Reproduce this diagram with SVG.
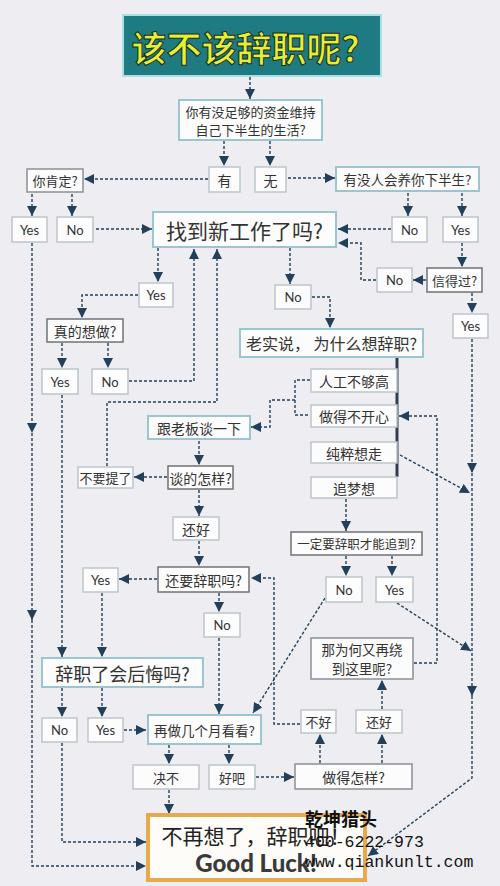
<svg xmlns="http://www.w3.org/2000/svg" width="500" height="886" viewBox="0 0 500 886">
<defs>
<marker id="ah" markerUnits="userSpaceOnUse" markerWidth="10" markerHeight="10" refX="10" refY="5" orient="auto">
<path d="M0,0 L10,5 L0,10 z" fill="#22405a"/>
</marker>
<style>
.b{fill:#fcfcfc;stroke:#bcc6ca;stroke-width:1.5}
.bt{fill:#fcfcfc;stroke:#9cc6cf;stroke-width:2}
.bd{fill:#fcfcfc;stroke:#6f7275;stroke-width:1.5}
.t{font-family:"Noto Sans CJK SC","Noto Sans",sans-serif;fill:#333;text-anchor:middle;dominant-baseline:central}
.l{font-family:Lato,"Noto Sans",sans-serif;fill:#333;text-anchor:middle;dominant-baseline:central;font-size:13px}
.c path{fill:none;stroke:#22405a;stroke-width:1.4;stroke-dasharray:3 2}
.c .a{marker-end:url(#ah)}
.wm{font-family:"Liberation Mono",monospace;fill:#111;font-size:16.5px}
</style>
</defs>
<rect width="500" height="886" fill="#eeeef2"/>

<g id="title">
<rect x="123" y="15" width="258" height="61" fill="#1f7b82" stroke="#a8e0e3" stroke-width="2"/>
<text x="254" y="46" class="t" style="font-size:35px;font-weight:bold;fill:#e4ef3a;stroke:#1d2b15;stroke-width:1">该不该辞职呢？</text>
</g>

<g class="c" id="connectors">
<path class="a" d="M250,77 V99"/>
<path class="a" d="M224,141 V166"/>
<path class="a" d="M270,141 V166"/>
<path class="a" d="M208,179 H84"/>
<path class="a" d="M288,178 H335"/>
<path class="a" d="M32,194 V216"/>
<path class="a" d="M72,194 V216"/>
<path class="a" d="M96,229 H152"/>
<path class="a" d="M408,193 V216"/>
<path class="a" d="M462,193 V216"/>
<path class="a" d="M391,229 H338"/>
<path class="a" d="M462,243 V267"/>
<path class="a" d="M426,280 H413"/>
<path class="a" d="M376,280 H361 V243 H338"/>
<path class="a" d="M472,293 V313"/>
<path class="a" d="M472,339 V473"/>
<path class="a" d="M472,473 V696"/>
<path class="a" d="M472,696 V778 L368,856"/>
<path class="a" d="M400,455 L470,493"/>
<path class="a" d="M397,603 L471,651"/>
<path class="a" d="M158,248 V282"/>
<path class="a" d="M290,248 V284"/>
<path class="a" d="M138,295 H82 V318"/>
<path class="a" d="M62,343 V368"/>
<path class="a" d="M108,343 V368"/>
<path class="a" d="M129,381 H194 V249"/>
<path class="a" d="M107,466 V402 H217 V249"/>
<path class="a" d="M312,297 H330 V328"/>
<path d="M310,380 H295 V415 H310"/>
<path class="a" d="M295,400 H270 V427 H251"/>
<path class="a" d="M199,441 V465"/>
<path class="a" d="M167,477 H134"/>
<path class="a" d="M199,490 V516"/>
<path class="a" d="M199,541 V566"/>
<path class="a" d="M157,579 H119"/>
<path class="a" d="M219,593 V612"/>
<path class="a" d="M102,593 V657"/>
<path class="a" d="M62,395 V657"/>
<path class="a" d="M32,243 V433"/>
<path class="a" d="M32,433 V620"/>
<path class="a" d="M32,620 V866 H146"/>
<path class="a" d="M62,688 V717"/>
<path class="a" d="M102,688 V717"/>
<path class="a" d="M62,743 V842 H146"/>
<path class="a" d="M124,730 H146"/>
<path class="a" d="M219,638 V714"/>
<path class="a" d="M325,598 L253,713"/>
<path class="a" d="M169,745 V764"/>
<path class="a" d="M229,745 V764"/>
<path class="a" d="M169,790 V814"/>
<path class="a" d="M256,777 H294"/>
<path class="a" d="M320,763 V734"/>
<path class="a" d="M382,763 V734"/>
<path class="a" d="M382,709 V680"/>
<path class="a" d="M300,724 H274 V578 H251"/>
<path class="a" d="M414,663 H437 V416 H399"/>
<path class="a" d="M346,499 V531"/>
<path class="a" d="M346,556 V576"/>
<path class="a" d="M392,556 V576"/>
</g>
<path d="M397,358 V477" stroke="#2d3e50" stroke-width="3" fill="none"/>

<g id="q1"><rect class="bt" x="179" y="100" width="143" height="40"/>
<text class="t" x="250.5" y="111" style="font-size:13px">你有没足够的资金维持</text>
<text class="t" x="250.5" y="129" style="font-size:13px">自己下半生的生活?</text></g>
<g id="you"><rect class="b" x="209" y="167" width="31" height="25"/><text class="t" x="224.5" y="179.5" style="font-size:14px">有</text></g>
<g id="wu"><rect class="b" x="255" y="167" width="31" height="25"/><text class="t" x="270.5" y="179.5" style="font-size:14px">无</text></g>
<g id="sure"><rect class="bd" x="27" y="169" width="56" height="23" style="stroke:#8a8f92"/><text class="t" x="55" y="180.5" style="font-size:13px">你肯定?</text></g>
<g id="raise"><rect class="bt" x="336" y="167" width="143" height="24"/><text class="t" x="407.5" y="179" style="font-size:13.5px">有没人会养你下半生?</text></g>
<g id="sureYes"><rect class="b" x="12" y="217" width="35" height="25"/><text class="l" x="29.5" y="229.5">Yes</text></g>
<g id="sureNo"><rect class="b" x="57" y="217" width="36" height="25"/><text class="l" x="75" y="229.5">No</text></g>
<g id="newjob"><rect class="bt" x="153" y="212" width="183" height="35"/><text class="t" x="244.5" y="229.5" style="font-size:21px">找到新工作了吗?</text></g>
<g id="raiseNo"><rect class="b" x="392" y="217" width="35" height="25"/><text class="l" x="409.5" y="229.5">No</text></g>
<g id="raiseYes"><rect class="b" x="443" y="217" width="35" height="25"/><text class="l" x="460.5" y="229.5">Yes</text></g>
<g id="trustNo"><rect class="b" x="377" y="268" width="35" height="24"/><text class="l" x="394.5" y="280">No</text></g>
<g id="trust"><rect class="bd" x="427" y="268" width="55" height="24"/><text class="t" x="454.5" y="280" style="font-size:13px">信得过?</text></g>
<g id="trustYes"><rect class="b" x="453" y="314" width="35" height="24"/><text class="l" x="470.5" y="326">Yes</text></g>
<g id="jobYes"><rect class="b" x="139" y="283" width="34" height="24"/><text class="l" x="156" y="295">Yes</text></g>
<g id="jobNo"><rect class="b" x="275" y="285" width="36" height="24"/><text class="l" x="293" y="297">No</text></g>
<g id="really"><rect class="bd" x="47" y="319" width="76" height="23"/><text class="t" x="85" y="330.5" style="font-size:14px">真的想做?</text></g>
<g id="reallyYes"><rect class="b" x="42" y="369" width="36" height="25"/><text class="l" x="60" y="381.5">Yes</text></g>
<g id="reallyNo"><rect class="b" x="92" y="369" width="36" height="25"/><text class="l" x="110" y="381.5">No</text></g>
<g id="why"><rect class="bt" x="240" y="329" width="183" height="28"/><text class="t" x="331.5" y="343" style="font-size:16px">老实说，  为什么想辞职?</text></g>
<g id="pay"><rect class="b" x="311" y="369" width="86" height="23"/><text class="t" x="354" y="380.5" style="font-size:14px">人工不够高</text></g>
<g id="unhappy"><rect class="b" x="311" y="405" width="86" height="22"/><text class="t" x="354" y="416" style="font-size:14px">做得不开心</text></g>
<g id="justgo"><rect class="b" x="311" y="442" width="86" height="21"/><text class="t" x="354" y="452.5" style="font-size:14px">纯粹想走</text></g>
<g id="dream"><rect class="b" x="311" y="477" width="86" height="21"/><text class="t" x="354" y="487.5" style="font-size:14px">追梦想</text></g>
<g id="boss"><rect class="bt" x="148" y="416" width="102" height="23"/><text class="t" x="199" y="427.5" style="font-size:14px">跟老板谈一下</text></g>
<g id="talk"><rect class="bd" x="168" y="466" width="65" height="23"/><text class="t" x="200.5" y="477.5" style="font-size:14px">谈的怎样?</text></g>
<g id="forget"><rect class="b" x="78" y="467" width="55" height="21"/><text class="t" x="105.5" y="477.5" style="font-size:13px">不要提了</text></g>
<g id="ok1"><rect class="b" x="173" y="517" width="46" height="23"/><text class="t" x="196" y="528.5" style="font-size:14px">还好</text></g>
<g id="must"><rect class="bd" x="291" y="532" width="131" height="23"/><text class="t" x="356.5" y="543.5" style="font-size:12.5px">一定要辞职才能追到?</text></g>
<g id="still"><rect class="bd" x="158" y="567" width="91" height="25"/><text class="t" x="203.5" y="579.5" style="font-size:14px">还要辞职吗?</text></g>
<g id="stillYes"><rect class="b" x="83" y="568" width="35" height="24"/><text class="l" x="100.5" y="580">Yes</text></g>
<g id="stillNo"><rect class="b" x="204" y="613" width="36" height="24"/><text class="l" x="222" y="625">No</text></g>
<g id="mustNo"><rect class="b" x="326" y="577" width="36" height="25"/><text class="l" x="344" y="589.5">No</text></g>
<g id="mustYes"><rect class="b" x="376" y="577" width="37" height="25"/><text class="l" x="394.5" y="589.5">Yes</text></g>
<g id="again"><rect class="bd" x="311" y="638" width="102" height="41" style="stroke:#8a8f92"/>
<text class="t" x="362" y="649" style="font-size:13.5px">那为何又再绕</text>
<text class="t" x="362" y="668" style="font-size:13.5px">到这里呢?</text></g>
<g id="regret"><rect class="bt" x="42" y="658" width="161" height="29"/><text class="t" x="122.5" y="672.5" style="font-size:18px">辞职了会后悔吗?</text></g>
<g id="regretNo"><rect class="b" x="42" y="718" width="35" height="24"/><text class="l" x="59.5" y="730">No</text></g>
<g id="regretYes"><rect class="b" x="88" y="718" width="35" height="24"/><text class="l" x="105.5" y="730">Yes</text></g>
<g id="months"><rect class="bt" x="148" y="715" width="113" height="29"/><text class="t" x="204.5" y="729.5" style="font-size:13.5px">再做几个月看看?</text></g>
<g id="bad"><rect class="b" x="301" y="710" width="35" height="23"/><text class="t" x="318.5" y="721.5" style="font-size:13px">不好</text></g>
<g id="ok2"><rect class="b" x="356" y="710" width="46" height="23"/><text class="t" x="379" y="721.5" style="font-size:13px">还好</text></g>
<g id="never"><rect class="b" x="133" y="765" width="66" height="24"/><text class="t" x="166" y="777" style="font-size:13px">决不</text></g>
<g id="fine"><rect class="b" x="209" y="765" width="46" height="24"/><text class="t" x="232" y="777" style="font-size:13px">好吧</text></g>
<g id="how"><rect class="bd" x="295" y="764" width="117" height="25" style="stroke:#8a8f92"/><text class="t" x="353.5" y="776.5" style="font-size:14px">做得怎样?</text></g>
<g id="final"><rect x="148" y="815" width="217" height="65" fill="#fdfcf8" stroke="#e8a94b" stroke-width="4"/>
<text class="t" x="256" y="835" style="font-size:21px;fill:#222">不再想了，辞职吧！</text>
<text class="t" x="256" y="862" style="font-family:Lato,'Noto Sans',sans-serif;font-size:24px;font-weight:900;fill:#3a3a3a">Good Luck!</text></g>

<g id="watermark">
<text x="305" y="826" style="font-family:'Noto Sans CJK SC',sans-serif;font-weight:bold;font-size:18px;fill:#111">乾坤猎头</text>
<text class="wm" x="305" y="847">400-6222-973</text>
<text class="wm" x="305" y="867">www.qiankunlt.com</text>
</g>
</svg>
